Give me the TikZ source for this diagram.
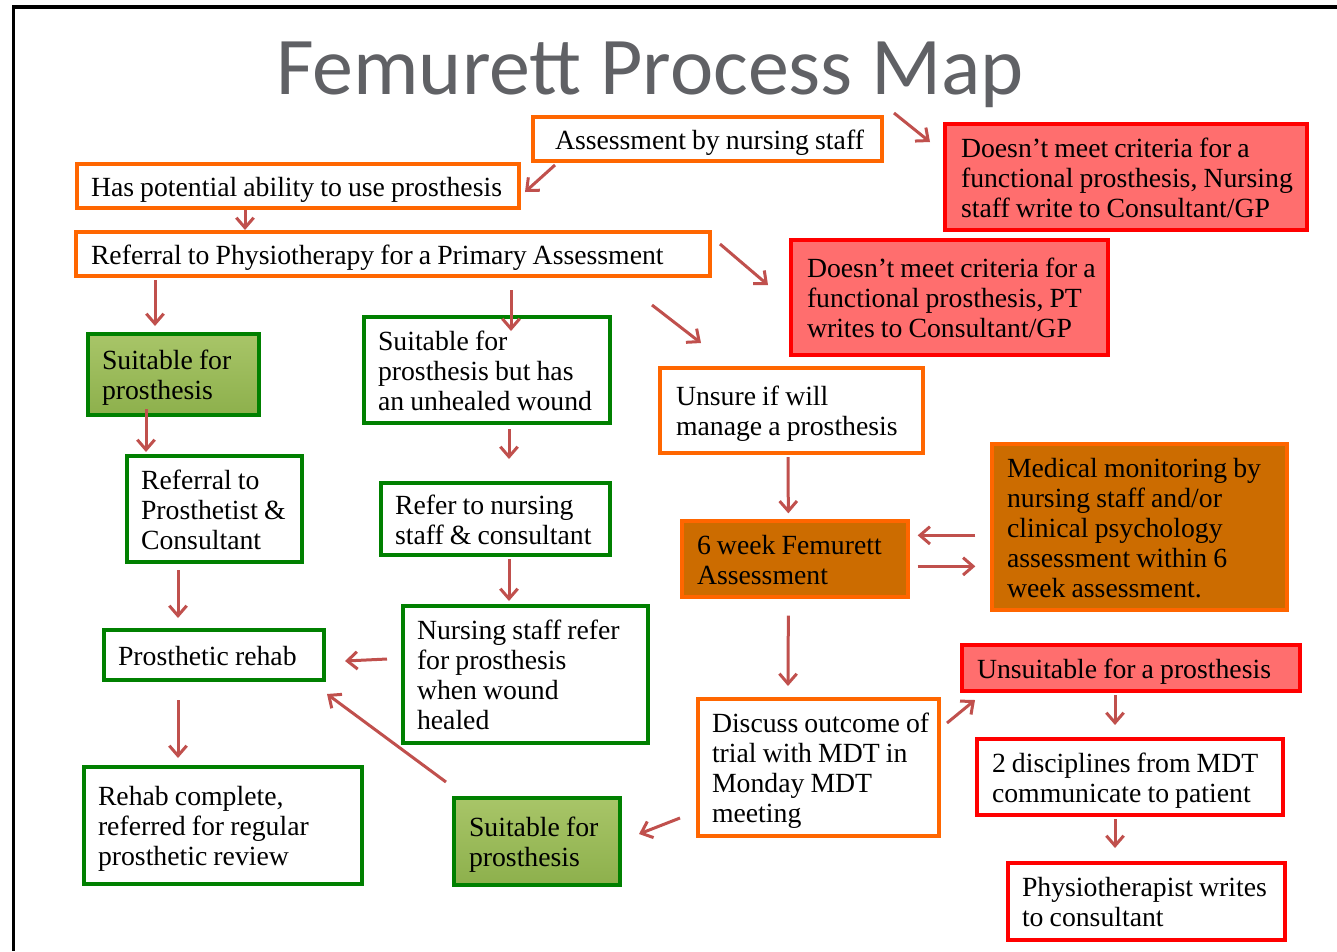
\documentclass[tikz,border=0pt]{standalone}
\usepackage{fontspec}
\setmainfont{Liberation Serif}
\newfontfamily\titlefont{Carlito}
\usetikzlibrary{arrows.meta,calc}
\definecolor{orng}{RGB}{255,102,0}
\definecolor{redb}{RGB}{255,0,0}
\definecolor{redf}{RGB}{255,110,110}
\definecolor{grnb}{RGB}{0,128,0}
\definecolor{grnt}{RGB}{168,197,104}
\definecolor{grnbot}{RGB}{141,176,76}
\definecolor{dkor}{RGB}{204,108,0}
\definecolor{arrc}{RGB}{192,80,77}
\definecolor{ttl}{RGB}{96,97,101}
\newcommand\boxlines[1]{\spaceskip=0.22em\relax\raisebox{-3pt}[\height][\depth]{\begin{tabular}{@{}l@{}}#1\end{tabular}}}
\newcommand\mkbox[8][17]{%
 \pgfmathsetmacro\bxw{(#6-#4-4)*0.75}%
 \pgfmathsetmacro\bxh{(#7-#5-4)*0.75}%
 \pgfmathsetmacro\bxt{(#6-#4-2*#1)*0.75}%
 \node[#3, minimum width=\bxw pt, minimum height=\bxh pt, text width=\bxt pt, align=left, inner sep=0pt] (#2) at ({(#4+#6)/2},{(#5+#7)/2}) {\boxlines{#8}};}
\begin{document}
\begin{tikzpicture}[x=0.75pt,y=-0.75pt,
  font=\fontsize{20.8}{22.5}\selectfont,
  obox/.style={draw=orng, line width=3pt, fill=white},
  rbox/.style={draw=redb, line width=3pt, fill=redf},
  rwbox/.style={draw=redb, line width=3pt, fill=white},
  gbox/.style={draw=grnb, line width=3pt, fill=white},
  gfbox/.style={draw=grnb, line width=3pt, top color=grnt, bottom color=grnbot},
  dbox/.style={draw=orng, line width=2.5pt, fill=dkor},
  arr/.style={draw=arrc, line width=2.25pt, -{Straight Barb[length=7.5pt,width=13pt]}},
  ttlstyle/.style={font=\titlefont\fontsize{61.5}{70}\selectfont, text=ttl, inner sep=0pt, anchor=base}]
\useasboundingbox (0,0) rectangle (1337,951);
\draw[line width=2.5pt] (1337,7) -- (13.5,7) -- (13.5,951);
\node[ttlstyle] (title) at (650,94) {Femurett Process Map};

\mkbox[24]{ass}{obox}{531}{115}{884}{163}{Assessment by nursing staff}
\mkbox[16]{has}{obox}{75}{162}{521}{210}{Has potential ability to use prosthesis}
\mkbox{ref}{obox}{74}{230}{712}{278}{Referral to Physiotherapy for a Primary Assessment}
\mkbox[18]{red1}{rbox}{943}{122}{1309}{232}{Doesn’t meet criteria for a\\functional prosthesis, Nursing\\staff write to Consultant/GP}
\mkbox[18]{red2}{rbox}{789}{238}{1110}{357}{Doesn’t meet criteria for a\\functional prosthesis, PT\\writes to Consultant/GP}
\mkbox[16]{suit1}{gfbox}{86}{332}{261}{417}{Suitable for\\prosthesis}
\mkbox[16]{refp}{gbox}{125}{454}{304}{564}{Referral to\\Prosthetist \&\\Consultant}
\mkbox[16]{unh}{gbox}{362}{315}{612}{425}{Suitable for\\prosthesis but has\\an unhealed wound}
\mkbox[16]{refn}{gbox}{379}{481}{612}{557}{Refer to nursing\\staff \& consultant}
\mkbox[16]{nsr}{gbox}{401}{604}{650}{745}{Nursing staff refer\\for prosthesis\\when wound\\healed}
\mkbox[16]{rehab}{gbox}{102}{628}{326}{682}{Prosthetic rehab}
\mkbox[16]{done}{gbox}{82}{765}{364}{886}{Rehab complete,\\referred for regular\\prosthetic review}
\mkbox[17]{suit2}{gfbox}{452}{796}{622}{887}{Suitable for\\prosthesis}
\mkbox[18]{unsure}{obox}{658}{366}{925}{455}{Unsure if will\\manage a prosthesis}
\mkbox[17]{six}{dbox}{680}{519}{910}{599}{6 week Femurett\\Assessment}
\mkbox[17]{med}{dbox}{990}{442}{1289}{612}{Medical monitoring by\\nursing staff and/or\\clinical psychology\\assessment within 6\\week assessment.}
\mkbox[16]{disc}{obox}{696}{697}{941}{838}{Discuss outcome of\\trial with MDT in\\Monday MDT\\meeting}
\mkbox[17]{unsuit}{rbox}{960}{643}{1302}{693}{Unsuitable for a prosthesis}
\mkbox[17]{two}{rwbox}{975}{737}{1285}{817}{2 disciplines from MDT\\communicate to patient}
\mkbox[16]{phys}{rwbox}{1006}{861}{1287}{942}{Physiotherapist writes\\to consultant}

\draw[arr] ($(ass.south west)+(24,2)$) -- ($(has.east)+(4,6)$);
\draw[arr] ($(ass.north east)+(10,-2)$) -- ($(red1.north west)+(-13,20)$);
\draw[arr] ($(has.south west)+(170,0)$) -- ($(ref.north west)+(171,0)$);
\draw[arr] ($(ref.north east)+(8,14)$) -- ($(red2.north west)+(-21,47)$);
\draw[arr] ($(ref.south east)+(-60,27)$) -- ($(unsure.north west)+(43,-23)$);
\draw[arr] ($(ref.south west)+(81,2)$) -- ($(suit1.north west)+(69,-6)$);
\draw[arr] ($(ref.south west)+(437,12)$) -- ($(unh.north west)+(149,16)$);
\draw[arr] ($(suit1.south west)+(60,-8)$) -- ($(refp.north west)+(21,-2)$);
\draw[arr] ($(refp.south west)+(53,6)$) -- ($(rehab.north west)+(76,-10)$);
\draw[arr] ($(unh.south west)+(147,4)$) -- ($(refn.north west)+(130,-22)$);
\draw[arr] ($(refn.south west)+(130,2)$) -- ($(nsr.north west)+(108,-3)$);
\draw[arr] ($(nsr.north west)+(-14,55)$) -- ($(rehab.east)+(19,6)$);
\draw[arr] ($(suit2.north west)+(-6,-14)$) -- ($(rehab.south east)+(1,12)$);
\draw[arr] ($(rehab.south west)+(76,18)$) -- ($(done.north west)+(96,-7)$);
\draw[arr] ($(unsure.south west)+(130,2)$) -- ($(six.north west)+(108,-6)$);
\draw[arr] ($(med.north west)+(-15,93)$) -- ($(six.north east)+(8,16)$);
\draw[arr] ($(six.north east)+(8,47)$) -- ($(med.north west)+(-15,124)$);
\draw[arr] ($(six.south west)+(108,17)$) -- ($(disc.north west)+(92,-11)$);
\draw[arr] ($(disc.north east)+(6,26)$) -- ($(unsuit.south west)+(15,7)$);
\draw[arr] ($(unsuit.south west)+(155,2)$) -- ($(two.north west)+(140,-12)$);
\draw[arr] ($(two.south west)+(140,2)$) -- ($(phys.north west)+(109,-13)$);
\draw[arr] ($(disc.south west)+(-16,-20)$) -- ($(suit2.north east)+(17,38)$);
\end{tikzpicture}
\end{document}
